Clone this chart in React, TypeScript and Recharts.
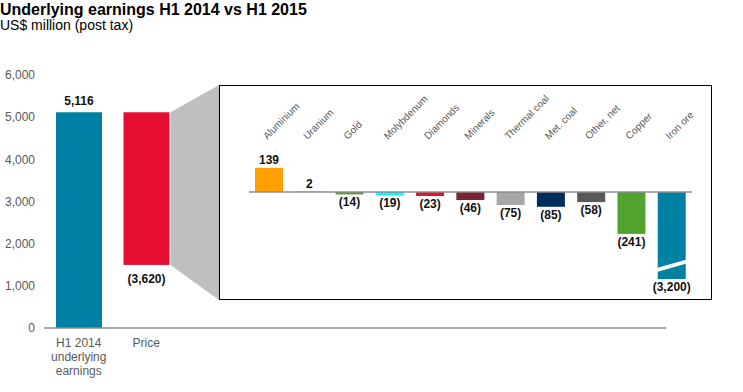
import React from "react";
import { BarChart, Bar, XAxis, YAxis, LabelList, ReferenceLine, Cell } from "recharts";

// main waterfall: opening total, then the price change
const mainCategories = ["H1 2014 underlying earnings", "Price"];
const mainTickLines = [["H1 2014", "underlying", "earnings"], ["Price"]];
const mainValues = [5116, -3620];
const mainColors = ["#0081a4", "#e60f33"];
const mainYTicks = [0, 1000, 2000, 3000, 4000, 5000, 6000];

// price breakdown by commodity (inset)
const priceCategories = [
  "Aluminium",
  "Uranium",
  "Gold",
  "Molybdenum",
  "Diamonds",
  "Minerals",
  "Thermal coal",
  "Met. coal",
  "Other, net",
  "Copper",
  "Iron ore",
];
const priceValues = [139, 2, -14, -19, -23, -46, -75, -85, -58, -241, -3200];
const priceColors = [
  "#ffa000",
  "#8c8c8c",
  "#4f9e33",
  "#00ffff",
  "#e8112d",
  "#7b2332",
  "#a6a6a6",
  "#002d5e",
  "#595959",
  "#52a22f",
  "#0081a4",
];
const priceDomain = [-500, 270];

const W = 743;
const H = 392;
const BOX = { left: 219, top: 85, width: 493, height: 215 };
const INSET_MARGIN = { top: 0, right: 20, bottom: 21, left: 30 };
const INSET_AXIS_H = 60;
const FONT = "'Liberation Sans', Arial, sans-serif";
const LABEL_COLOR = "#111111";

const fmt = (v: number) => {
  const s = Math.abs(v).toLocaleString("en-US");
  return v < 0 ? `(${s})` : s;
};

let running = 0;
const mainData = mainCategories.map((name, i) => {
  const start = i === 0 ? 0 : running;
  const end = i === 0 ? mainValues[0] : running + mainValues[i];
  running = end;
  return { name, range: [Math.min(start, end), Math.max(start, end)] };
});

const priceData = priceCategories.map((name, i) => ({ name, value: priceValues[i] }));

const MainBarShape = (props: any) => {
  const { x, y, width, height, index } = props;
  const top = Math.min(y, y + height);
  const h = Math.abs(height);
  return (
    <g>
      {index === 1 && (
        <polygon
          points={`${x + width + 1},${top} ${BOX.left},${BOX.top} ${BOX.left},${BOX.top + BOX.height} ${x + width + 1},${top + h}`}
          fill="#bfbfbf"
        />
      )}
      <rect x={x} y={top} width={width} height={h} fill={mainColors[index]} />
    </g>
  );
};

const MainLabel = (props: any) => {
  const { x, y, width, height, index } = props;
  const v = mainValues[index];
  const top = Math.min(y, y + height);
  const bottom = Math.max(y, y + height);
  return (
    <text
      x={x + width / 2}
      y={v >= 0 ? top - 7 : bottom + 18}
      textAnchor="middle"
      fontSize={12}
      fontWeight="bold"
      fill={LABEL_COLOR}
    >
      {fmt(v)}
    </text>
  );
};

const MainTick = (props: any) => {
  const { x, y, index } = props;
  const lines = mainTickLines[index] || [];
  return (
    <text x={x} y={y} textAnchor="middle" fontSize={12} fill="#595959">
      {lines.map((l, i) => (
        <tspan key={i} x={x} dy={i === 0 ? 11 : 14}>
          {l}
        </tspan>
      ))}
    </text>
  );
};

const plotBottom = BOX.height - INSET_MARGIN.bottom;

const PriceBarShape = (props: any) => {
  const { x, y, width, height, index } = props;
  const top = Math.min(y, y + height);
  let bottom = Math.max(y, y + height);
  const broken = bottom > plotBottom;
  if (broken) bottom = plotBottom;
  return (
    <g>
      <rect x={x} y={top} width={width} height={Math.max(bottom - top, 0)} fill={priceColors[index]} />
      {broken && (
        <polygon
          points={`${x - 1},${bottom - 11} ${x + width + 1},${bottom - 19.5} ${x + width + 1},${bottom - 15.5} ${x - 1},${bottom - 7}`}
          fill="#ffffff"
        />
      )}
    </g>
  );
};

const PriceLabel = (props: any) => {
  const { x, y, width, height, index } = props;
  const v = priceValues[index];
  const top = Math.min(y, y + height);
  const bottom = Math.min(Math.max(y, y + height), plotBottom);
  return (
    <text
      x={x + width / 2}
      y={v >= 0 ? top - 4 : bottom + 12}
      textAnchor="middle"
      fontSize={12}
      fontWeight="bold"
      fill={LABEL_COLOR}
    >
      {fmt(v)}
    </text>
  );
};

const PriceTick = (props: any) => {
  const { x, y, payload } = props;
  const px = x - 2;
  const py = y + 3;
  return (
    <text x={px} y={py} transform={`rotate(-45, ${px}, ${py})`} textAnchor="start" fontSize={10} fill="#595959">
      {payload.value}
    </text>
  );
};

export default function App() {
  return (
    <div
      style={{
        position: "absolute",
        left: 0,
        top: 0,
        width: W,
        height: H,
        background: "#fff",
        fontFamily: FONT,
      }}
    >
      <div style={{ position: "absolute", left: 0, top: 1.5, fontSize: 16, lineHeight: "16px", fontWeight: "bold", whiteSpace: "nowrap" }}>
        Underlying earnings H1 2014 vs H1 2015
      </div>
      <div style={{ position: "absolute", left: 0, top: 17.5, fontSize: 14, lineHeight: "14px", whiteSpace: "nowrap" }}>
        US$ million (post tax)
      </div>

      <div style={{ position: "absolute", left: 0, top: 0 }}>
        <BarChart width={W} height={H} data={mainData} margin={{ top: 75, right: 77, bottom: 0, left: 0 }}>
          <XAxis
            dataKey="name"
            height={64}
            tickLine={false}
            axisLine={{ stroke: "#8c8c8c", strokeWidth: 1.5 }}
            padding={{ left: 1, right: 486 }}
            interval={0}
            tick={<MainTick />}
          />
          <YAxis
            width={44}
            domain={[0, 6000]}
            ticks={mainYTicks}
            axisLine={false}
            tickLine={false}
            tickMargin={3}
            tick={{ fill: "#595959", fontSize: 12 }}
            tickFormatter={(v: number) => v.toLocaleString("en-US")}
          />
          <Bar dataKey="range" barSize={46} isAnimationActive={false} shape={<MainBarShape />}>
            {mainData.map((d, i) => (
              <Cell key={d.name} fill={mainColors[i]} />
            ))}
            <LabelList dataKey="range" content={<MainLabel />} />
          </Bar>
        </BarChart>
      </div>

      <div
        style={{
          position: "absolute",
          left: BOX.left,
          top: BOX.top,
          width: BOX.width,
          height: BOX.height,
          boxSizing: "border-box",
          border: "1.5px solid #000",
          background: "#fff",
        }}
      />
      <div style={{ position: "absolute", left: BOX.left, top: BOX.top }}>
        <BarChart width={BOX.width} height={BOX.height} data={priceData} margin={INSET_MARGIN}>
          <XAxis
            dataKey="name"
            orientation="top"
            height={INSET_AXIS_H}
            axisLine={false}
            tickLine={false}
            interval={0}
            tick={<PriceTick />}
          />
          <YAxis hide domain={priceDomain} allowDataOverflow />
          <ReferenceLine y={0} stroke="#8c8c8c" strokeWidth={1.5} />
          <Bar dataKey="value" barSize={28} isAnimationActive={false} shape={<PriceBarShape />}>
            {priceData.map((d, i) => (
              <Cell key={d.name} fill={priceColors[i]} />
            ))}
            <LabelList dataKey="value" content={<PriceLabel />} />
          </Bar>
        </BarChart>
      </div>
    </div>
  );
}
